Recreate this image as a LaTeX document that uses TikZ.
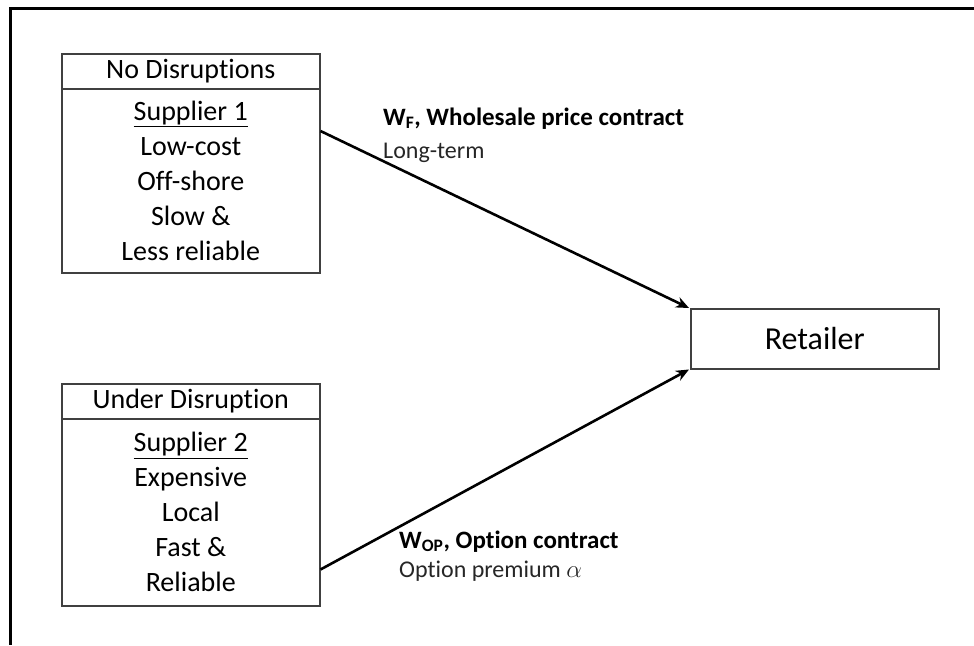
\documentclass[tikz,border=0pt]{standalone}
\usepackage{fontspec}
\setmainfont{Carlito}[Ligatures=NoCommon]
\usetikzlibrary{arrows.meta}
\begin{document}
\begin{tikzpicture}[x=1pt,y=-1pt,
  boxline/.style={draw=black!75, line width=1.5pt},
  headbox/.style={boxline, minimum width=258pt, minimum height=35pt, inner sep=0pt, anchor=north west, font=\fontsize{28}{34}\selectfont},
  bodybox/.style={boxline, minimum width=258pt, inner sep=0pt, anchor=north west, align=center, font=\fontsize{28}{35}\selectfont},
  retbox/.style={boxline, minimum width=248pt, minimum height=60pt, inner sep=0pt, anchor=north west, font=\fontsize{32}{36}\selectfont},
  arrowline/.style={line width=2.6pt, -{Stealth[length=13pt,width=11pt]}},
  boldlabel/.style={anchor=base west, inner sep=0pt, font=\fontsize{25}{28}\selectfont\bfseries},
  plainlabel/.style={anchor=base west, inner sep=0pt, font=\fontsize{24}{28}\selectfont, text=black!85}
]
\useasboundingbox (0,0) rectangle (974,645);
\draw[line width=3pt] (974,8.5) -- (10,8.5) -- (10,645);

\node[headbox] (h1) at (61,53) {No Disruptions};
\node[bodybox, minimum height=184pt] (b1) at (61,88) {\underline{Supplier 1}\\Low-cost\\Off-shore\\Slow \&\\Less reliable};

\node[headbox] (h2) at (61,383) {Under Disruption};
\node[bodybox, minimum height=187pt] (b2) at (61,418) {\underline{Supplier 2}\\Expensive\\Local\\Fast \&\\Reliable};

\node[retbox] (ret) at (690,308) {Retailer};

\draw[arrowline] ([yshift=-43pt]b1.north east) -- ([xshift=-1pt]ret.north west);
\draw[arrowline] ([yshift=37pt]b2.south east) -- ([xshift=-1pt]ret.south west);

\node[boldlabel] (l1) at (383,125) {W\textsubscript{F}, Wholesale price contract};
\node[plainlabel] (l2) at (383,158) {Long-term};
\node[boldlabel] (l3) at (399,548) {W\textsubscript{OP}, Option contract};
\node[plainlabel] (l4) at (399,577) {Option premium $\alpha$};
\end{tikzpicture}
\end{document}
